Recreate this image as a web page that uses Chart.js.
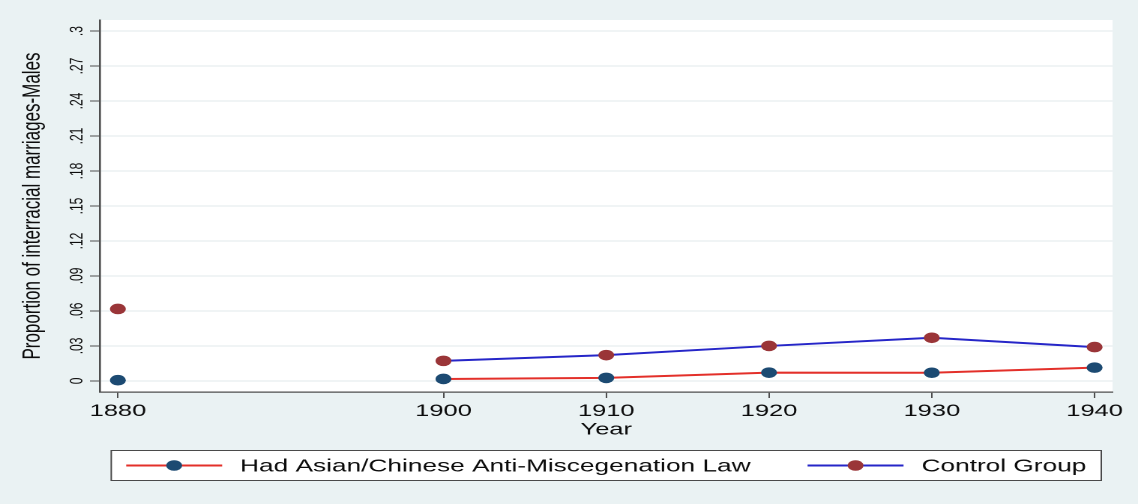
<!DOCTYPE html>
<html>
<head>
<meta charset="utf-8">
<script src="https://cdn.jsdelivr.net/npm/chart.js@4.4.1/dist/chart.umd.min.js"></script>
<style>
  html, body { margin: 0; padding: 0; background: #eaf2f3; overflow: hidden; }
  /* the graph is laid out on a narrower canvas and widened to the page */
  #frame { width: 759px; height: 504px; transform: scaleX(1.49934); transform-origin: 0 0; }
</style>
</head>
<body>
<div id="frame"><canvas id="c"></canvas></div>
<script>
// Census years (no 1890 census records survive, so that year is empty)
const years = [1880, 1890, 1900, 1910, 1920, 1930, 1940];
const lawStates = [0.0006, null, 0.0017, 0.0026, 0.0071, 0.0070, 0.0114];
const controlGroup = [0.0617, null, 0.0172, 0.0221, 0.0300, 0.0370, 0.0290];
const seriesNames = ['Had Asian/Chinese Anti-Miscegenation Law', 'Control Group'];

const xTickValues = [1880, 1900, 1910, 1920, 1930, 1940];
const yTickValues = [0, 0.03, 0.06, 0.09, 0.12, 0.15, 0.18, 0.21, 0.24, 0.27, 0.3];
const yTickLabels = ['0', '.03', '.06', '.09', '.12', '.15', '.18', '.21', '.24', '.27', '.3'];

const FONT = '"Liberation Sans", Arial, Helvetica, sans-serif';
const INK = '#0c0c0c';
const AXIS = '#4e4e4e';

const toPoints = vals => years.map((y, i) => ({ x: y, y: vals[i] }));

// white plot region on the light-blue graph region
const plotBackground = {
  id: 'plotBackground',
  beforeDraw(chart) {
    const { ctx, chartArea: a } = chart;
    ctx.save();
    ctx.fillStyle = '#ffffff';
    ctx.fillRect(a.left, a.top, a.right - a.left, a.bottom - a.top);
    ctx.restore();
  }
};

// boxed legend below the x-axis title: line with marker, then label
const boxedLegend = {
  id: 'boxedLegend',
  afterDraw(chart) {
    const { ctx, chartArea: a } = chart;
    const sets = chart.data.datasets;
    const left = a.left + 7, right = a.right - 7;
    const top = a.bottom + 58, bottom = a.bottom + 89;
    ctx.save();
    ctx.fillStyle = '#ffffff';
    ctx.fillRect(left, top, right - left, bottom - top);
    ctx.strokeStyle = '#4a4a4a';
    ctx.lineWidth = 1;
    ctx.strokeRect(left + 0.5, top + 0.5, right - left - 1, bottom - top - 1);

    ctx.font = '17.5px ' + FONT;
    const sym = 64, gapText = 12, gapItem = 38;
    const widths = sets.map(d => ctx.measureText(d.label).width);
    const total = widths.reduce((s, w) => s + sym + gapText + w, 0) + gapItem * (sets.length - 1);
    let x = (left + right) / 2 - total / 2;
    const cy = (top + bottom) / 2;
    sets.forEach((d, i) => {
      ctx.strokeStyle = d.borderColor;
      ctx.lineWidth = d.borderWidth;
      ctx.beginPath();
      ctx.moveTo(x, cy);
      ctx.lineTo(x + sym, cy);
      ctx.stroke();
      ctx.fillStyle = d.pointBackgroundColor;
      ctx.beginPath();
      ctx.arc(x + sym / 2, cy, d.pointRadius, 0, Math.PI * 2);
      ctx.fill();
      ctx.fillStyle = INK;
      ctx.textBaseline = 'middle';
      ctx.textAlign = 'left';
      ctx.fillText(d.label, x + sym + gapText, cy + 1);
      x += sym + gapText + widths[i] + gapItem;
    });
    ctx.restore();
  }
};

new Chart(document.getElementById('c'), {
  type: 'line',
  data: {
    datasets: [
      {
        label: seriesNames[0],
        data: toPoints(lawStates),
        borderColor: '#e3302a',
        borderWidth: 2,
        pointBackgroundColor: '#1c4a72',
        pointBorderWidth: 0,
        pointRadius: 5.3,
        spanGaps: false,
        tension: 0
      },
      {
        label: seriesNames[1],
        data: toPoints(controlGroup),
        borderColor: '#2626c8',
        borderWidth: 2,
        pointBackgroundColor: '#9a3538',
        pointBorderWidth: 0,
        pointRadius: 5.3,
        spanGaps: false,
        tension: 0
      }
    ]
  },
  options: {
    responsive: true,
    maintainAspectRatio: false,
    devicePixelRatio: 2,
    animation: false,
    layout: { padding: { left: 6.7, right: 17, top: 20, bottom: 62 } },
    plugins: {
      legend: { display: false },
      tooltip: { enabled: false }
    },
    scales: {
      x: {
        type: 'linear',
        min: 1878.9,
        max: 1941.1,
        afterBuildTicks: s => { s.ticks = xTickValues.map(v => ({ value: v })); },
        afterFit: s => { s.height = 50; },
        ticks: {
          callback: v => String(v),
          font: { family: FONT, size: 17 },
          color: INK,
          padding: 3,
          maxRotation: 0,
          autoSkip: false
        },
        grid: { drawOnChartArea: false, drawTicks: true, tickLength: 6, tickColor: AXIS, tickWidth: 1 },
        border: { color: AXIS, width: 1.3 },
        title: {
          display: true,
          text: 'Year',
          font: { family: FONT, size: 17 },
          color: INK,
          padding: { top: 0, bottom: 2 }
        }
      },
      y: {
        type: 'linear',
        min: -0.0095,
        max: 0.3095,
        afterBuildTicks: s => { s.ticks = yTickValues.map(v => ({ value: v })); },
        afterFit: s => { s.width = 60; },
        ticks: {
          callback: (v, i) => yTickLabels[i],
          font: { family: FONT, size: 12 },
          color: INK,
          minRotation: 90,
          maxRotation: 90,
          crossAlign: 'center',
          padding: 0,
          autoSkip: false
        },
        grid: { color: '#e1eaec', lineWidth: 1, drawTicks: true, tickLength: 6.7, tickColor: AXIS, tickWidth: 1 },
        border: { color: AXIS, width: 1.3 },
        title: {
          display: true,
          text: 'Proportion of interracial marriages-Males',
          font: { family: FONT, size: 17 },
          color: INK,
          padding: { top: 5, bottom: 0 }
        }
      }
    }
  },
  plugins: [plotBackground, boxedLegend]
});
</script>
</body>
</html>
